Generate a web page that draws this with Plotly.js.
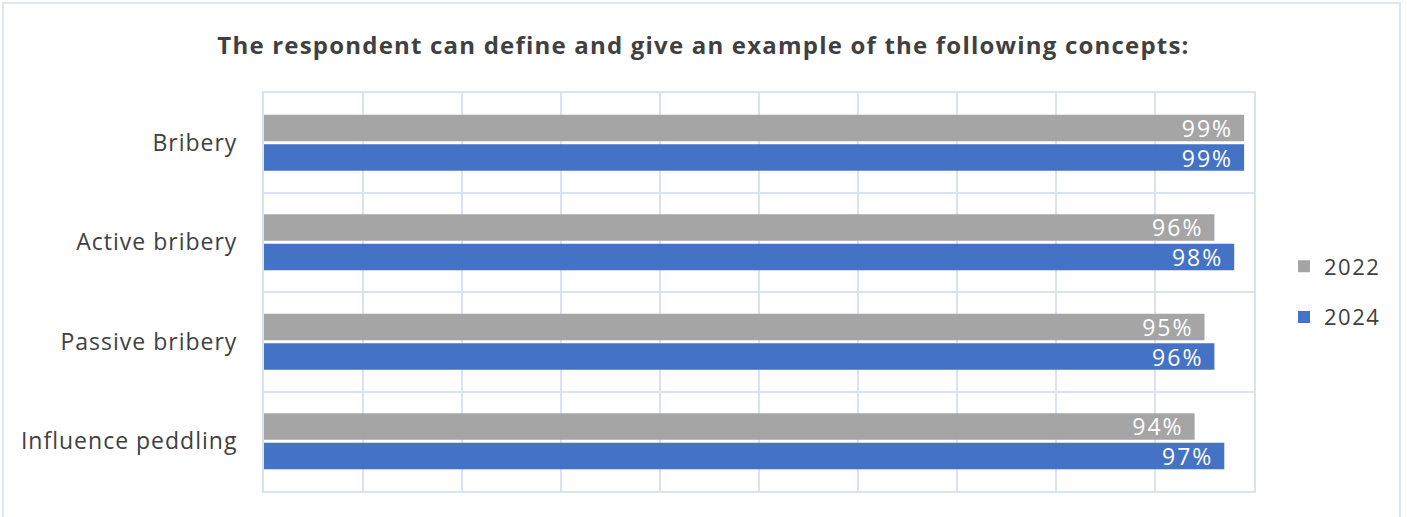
<!DOCTYPE html>
<html>
<head>
<meta charset="utf-8">
<script src="https://cdn.plot.ly/plotly-3.0.1.min.js"></script>
<style>
  html, body { margin: 0; padding: 0; background: #ffffff; }
  #chart { width: 1407px; height: 517px; }
  /* slightly wider tracking for the chart typography */
  text.gtitle { letter-spacing: 1.2px; }
  .yaxislayer-above text { letter-spacing: 1px; }
  text.bartext { letter-spacing: 2px; }
  text.legendtext { letter-spacing: 1.5px; }
</style>
</head>
<body>
<div id="chart"></div>
<script>
// Concepts surveyed, top to bottom
const concepts = ["Bribery", "Active bribery", "Passive bribery", "Influence peddling"];
// Share of respondents (%) able to define and give an example
const values2022 = [99, 96, 95, 94];
const values2024 = [99, 98, 96, 97];
const seriesNames = ["2022", "2024"];

const FONT = "'Open Sans', 'Noto Sans', sans-serif";
const TEXT_COLOR = "#404040";
const GRID = "#d9e2f1";

function barTrace(name, values, color) {
  return {
    type: "bar",
    orientation: "h",
    name: name,
    legendgroup: name,
    x: values,
    y: concepts,
    marker: { color: color },
    text: values.map(v => v + "%\u00a0"),
    textposition: "inside",
    insidetextanchor: "end",
    constraintext: "none",
    textangle: 0,
    textfont: { family: FONT, size: 23, color: "#ffffff" },
    hoverinfo: "x+y+name",
    cliponaxis: false
  };
}

const data = [
  barTrace(seriesNames[0], values2022, "#a5a5a5"),
  barTrace(seriesNames[1], values2024, "#4472c4")
];

const layout = {
  width: 1407,
  height: 517,
  margin: { l: 264, r: 153, t: 93, b: 26, pad: 0 },
  paper_bgcolor: "#ffffff",
  plot_bgcolor: "#ffffff",
  font: { family: FONT, color: TEXT_COLOR, size: 22 },
  title: {
    text: "<b>The respondent can define and give an example of the following concepts:</b>",
    font: { family: FONT, size: 24, color: TEXT_COLOR },
    x: 0.5,
    xref: "container",
    xanchor: "center",
    y: 1 - 46 / 517,
    yref: "container",
    yanchor: "middle"
  },
  barmode: "group",
  bargap: 0.405,
  bargroupgap: 0.1,
  xaxis: {
    range: [0, 100],
    dtick: 10,
    tick0: 0,
    showticklabels: false,
    showgrid: true,
    gridcolor: GRID,
    gridwidth: 2,
    zeroline: false,
    showline: true,
    linecolor: GRID,
    linewidth: 2,
    mirror: true,
    fixedrange: true
  },
  yaxis: {
    type: "category",
    autorange: "reversed",
    tickson: "boundaries",
    showgrid: true,
    gridcolor: GRID,
    gridwidth: 2,
    showline: true,
    linecolor: GRID,
    linewidth: 2,
    mirror: true,
    ticks: "",
    ticklabelstandoff: 20,
    tickfont: { family: FONT, size: 23, color: TEXT_COLOR },
    fixedrange: true
  },
  showlegend: true,
  legend: {
    x: (1284 - 264) / 990,
    xanchor: "left",
    y: 0.5,
    yanchor: "middle",
    traceorder: "grouped",
    tracegroupgap: 19,
    itemwidth: 30,
    font: { family: FONT, size: 22, color: TEXT_COLOR },
    bgcolor: "rgba(0,0,0,0)"
  },
  shapes: [
    {
      // outer frame around the whole figure
      type: "rect",
      xref: "paper", yref: "paper",
      x0: (3 - 264) / 990, x1: (1400 - 264) / 990,
      y0: (491 - 530) / 398, y1: (491 - 3) / 398,
      line: { color: "#dde6f3", width: 2 },
      fillcolor: "rgba(0,0,0,0)",
      layer: "below"
    }
  ]
};

Plotly.newPlot("chart", data, layout, { displayModeBar: false, staticPlot: true });
</script>
</body>
</html>
